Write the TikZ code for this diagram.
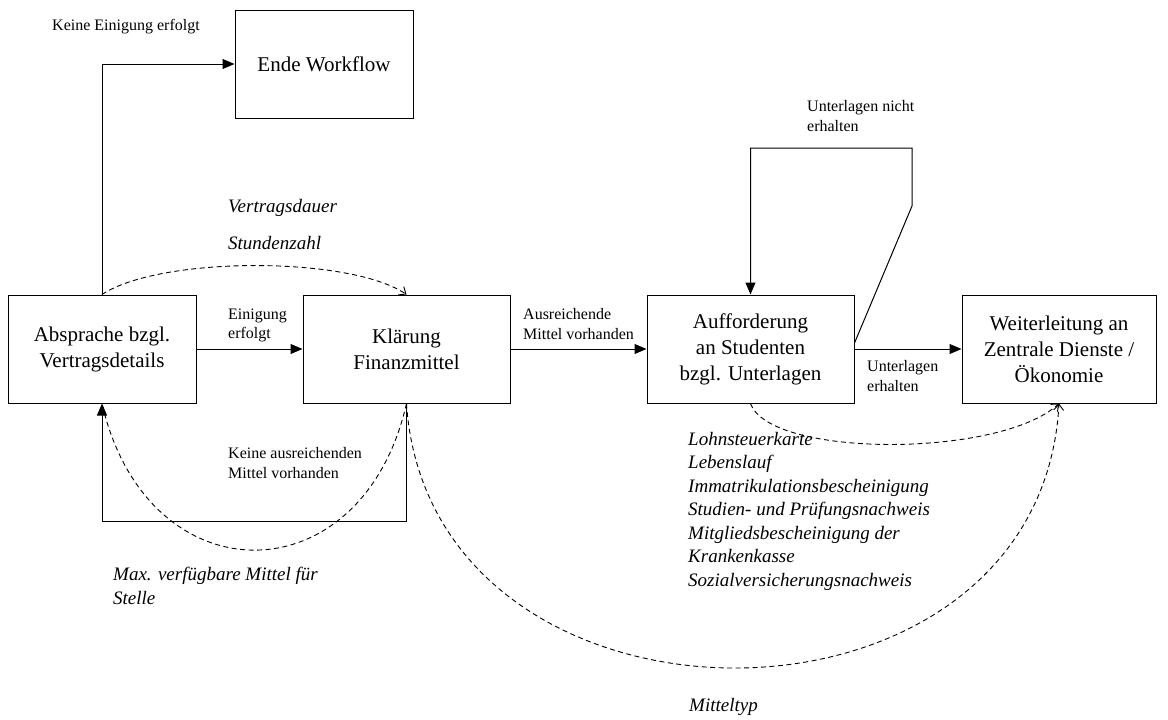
\documentclass[tikz,border=0pt]{standalone}
\usepackage{fontspec}
\setmainfont{Liberation Serif}
\usetikzlibrary{arrows.meta,calc}

\begin{document}
\begin{tikzpicture}[x=1pt,y=-1pt,
  box/.style={draw, line width=1pt, minimum height=108pt, inner sep=0pt, align=center,
              font=\fontsize{21}{26}\selectfont},
  flow/.style={line width=1pt, -{Triangle[length=12pt,width=10pt]}},
  dashline/.style={line width=0.9pt, dash pattern=on 5pt off 3.5pt},
  info/.style={dashline, -{Straight Barb[length=6pt,width=10pt]}},
  lbl/.style={inner sep=0pt, align=left, anchor=west, font=\fontsize{16}{19.5}\selectfont},
  doc/.style={inner sep=0pt, align=left, anchor=west, font=\fontsize{19}{23.5}\selectfont\itshape}]

\useasboundingbox (0,0) rectangle (1168,720);

% process steps
\node[box, minimum width=178pt] (ende) at (324,64) {Ende Workflow};
\node[box, minimum width=188pt] (abs)  at (102,349) {Absprache bzgl.\\Vertragsdetails};
\node[box, minimum width=207pt] (klar) at (406.5,349) {Klärung\\Finanzmittel};
\node[box, minimum width=207pt] (auff) at (750.5,349) {Aufforderung\\an Studenten\\bzgl. Unterlagen};
\node[box, minimum width=194pt] (weit) at (1059,349) {Weiterleitung an\\Zentrale Dienste /\\Ökonomie};

% control flow
\draw[flow] (abs.north) |- (ende.west);
\draw[flow] (abs.east) -- (klar.west);
\draw[flow] (klar.east) -- (auff.west);
\draw[flow] (auff.east) -- (weit.west);

\coordinate (r1) at (912,206);
\coordinate (r2) at (912,148);
\draw[flow] ([yshift=6pt]auff.east) -- (r1) -- (r2) -| (auff.north);

\coordinate (k1) at (406.5,521);
\draw[flow] (klar.south) -- (k1) -| (abs.south);

% information flow
\draw[info] (abs.north) .. controls (160,256) and (350,256) .. (klar.north);
\draw[dashline] (klar.south) .. controls (362,599) and (147,599) .. (abs.south);
\draw[info] (klar.south) .. controls (430,756) and (1040,756) .. (weit.south);
\draw[info] (auff.south) .. controls (770,458) and (1000,458) .. (weit.south);

% conditions
\node[lbl] (l1) at (52,27) {Keine Einigung erfolgt};
\node[lbl] (l2) at (228,325.5) {Einigung\\erfolgt};
\node[lbl] (l3) at (523,324) {Ausreichende\\Mittel vorhanden};
\node[lbl] (l4) at (228,463) {Keine ausreichenden\\Mittel vorhanden};
\node[lbl] (l5) at (807,116) {Unterlagen nicht\\erhalten};
\node[lbl] (l6) at (867,376) {Unterlagen\\erhalten};

% transferred data
\node[doc] (d1) at (228,208) {Vertragsdauer};
\node[doc] (d2) at (228,243) {Stundenzahl};
\node[doc] (d3) at (113,586) {Max. verfügbare Mittel für\\Stelle};
\node[doc] (d4) at (688,511) {Lohnsteuerkarte\\Lebenslauf\\Immatrikulationsbescheinigung\\Studien- und Prüfungsnachweis\\Mitgliedsbescheinigung der\\Krankenkasse\\Sozialversicherungsnachweis};
\node[doc] (d5) at (689,707) {Mitteltyp};

\end{tikzpicture}
\end{document}
